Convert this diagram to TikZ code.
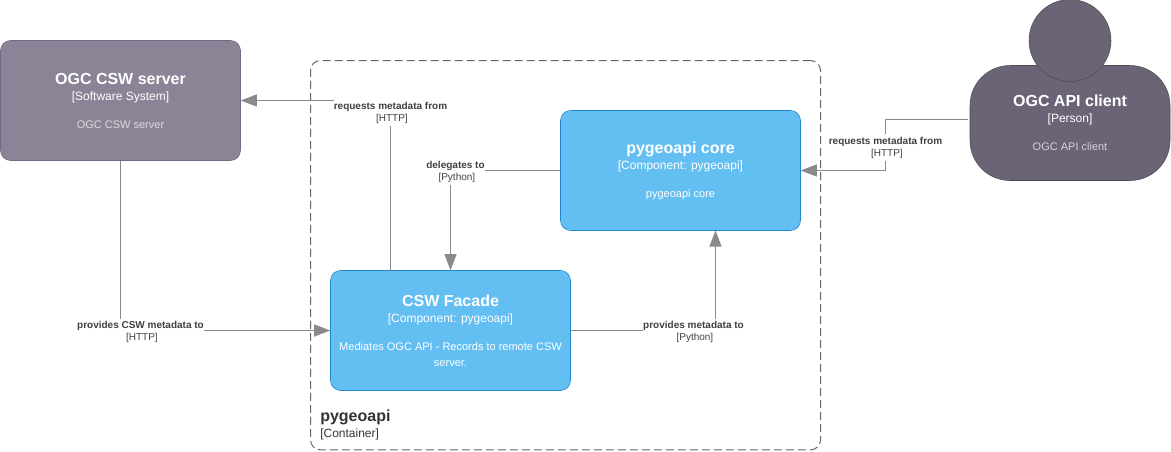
\documentclass[tikz,border=0pt]{standalone}
\usepackage{fontspec}
\setmainfont{Liberation Sans}
\usetikzlibrary{arrows.meta}

\definecolor{componentfill}{HTML}{63BEF2}
\definecolor{componentline}{HTML}{2086C9}
\definecolor{systemfill}{HTML}{8B8496}
\definecolor{systemline}{HTML}{736885}
\definecolor{personfill}{HTML}{6B6477}
\definecolor{personline}{HTML}{4D4D4D}
\definecolor{connline}{HTML}{8A8A8A}
\definecolor{labeltext}{HTML}{404040}

\newcommand{\titlefont}{\fontsize{12}{13.5}\bfseries\selectfont}
\newcommand{\techfont}{\fontsize{9}{13.5}\selectfont}
\newcommand{\descfont}{\fontsize{8.25}{12}\selectfont}
\newcommand{\connfont}{\fontsize{7.5}{9}\selectfont}

\tikzset{
  boxstyle/.style={rectangle, rounded corners=7.5pt, inner sep=0pt, align=center, text=white,
    minimum width=180pt, minimum height=90pt},
  component/.style={boxstyle, draw=componentline, fill=componentfill},
  softsystem/.style={boxstyle, draw=systemline, fill=systemfill},
  connector/.style={draw=connline, line width=0.75pt},
  arrowed/.style={connector, -{Triangle[length=12pt,width=9pt,fill=connline]}},
  connlabel/.style={fill=white, inner sep=0pt, align=center, text=labeltext, font=\connfont,
    minimum height=20pt},
}

\begin{document}
\begin{tikzpicture}[x=0.75pt, y=-0.75pt]
    \useasboundingbox (0,0) rectangle (1171,451);

    % boundary
    \node[rectangle, rounded corners=7.5pt, draw=black!60, dash pattern=on 6pt off 3pt, line width=0.75pt,
      minimum width=382.5pt, minimum height=292pt, inner sep=0pt] (boundary) at (565.5,255.2) {};
    \node[anchor=west, align=left, inner sep=0pt, text=black!80] (boundarytext) at (320,425)
      {{\titlefont pygeoapi}\\{\techfont [Container]}};

    % boxes
    \node[softsystem] (server) at (120.5,100.5)
      {{\titlefont OGC CSW server}\\{\techfont [Software System]}\\[9pt]{\descfont\color{white!70!systemfill} OGC CSW server}};
    \node[component] (core) at (680.5,170.5)
      {{\titlefont pygeoapi core}\\{\techfont [Component: pygeoapi]}\\[9pt]{\descfont pygeoapi core}};
    \node[component] (facade) at (450.5,330.5)
      {{\titlefont CSW Facade}\\{\techfont [Component: pygeoapi]}\\[9pt]{\descfont Mediates OGC API - Records to remote CSW}\\{\descfont server.}};

    % person
    \node[boxstyle, rounded corners=30pt, draw=personline, fill=personfill, minimum width=150pt, minimum height=86.25pt] (clientbody) at (1070,123)
      {{\titlefont OGC API client}\\{\techfont [Person]}\\[9pt]{\descfont\color{white!70!personfill} OGC API client}};
    \node[circle, draw=personline, fill=personfill, minimum size=61.5pt, inner sep=0pt] (clienthead) at (1070,40.5) {};

    % free ends of the connectors
    \coordinate (facadeup) at (390.5,270.5);
    \coordinate (coredown) at (715.5,230.5);
    \coordinate (clientport) at (968,119.5);
    \coordinate (clientbend) at (885.5,170.5);

    % connectors
    \draw[arrowed] (facadeup) |- (server.east);
    \draw[arrowed] (core.west) -| (facade.north);
    \draw[arrowed] (server.south) |- (facade.west);
    \draw[arrowed] (facade.east) -| (coredown);
    \draw[arrowed] (clientport) -| (clientbend) -- (core.east);

    % connector labels
    \node[connlabel] (requestserver) at (390.5,112.5)
      {{\bfseries requests metadata from}\\{} [HTTP]};
    \node[connlabel] (delegates) at (455.5,172)
      {{\bfseries delegates to}\\{} [Python]};
    \node[connlabel] (providescsw) at (140.5,332)
      {{\bfseries provides CSW metadata to}\\{} [HTTP]};
    \node[connlabel] (providesmeta) at (693.5,332)
      {{\bfseries provides metadata to}\\{} [Python]};
    \node[connlabel] (requestcore) at (885.5,147.5)
      {{\bfseries requests metadata from}\\{} [HTTP]};
\end{tikzpicture}
\end{document}
